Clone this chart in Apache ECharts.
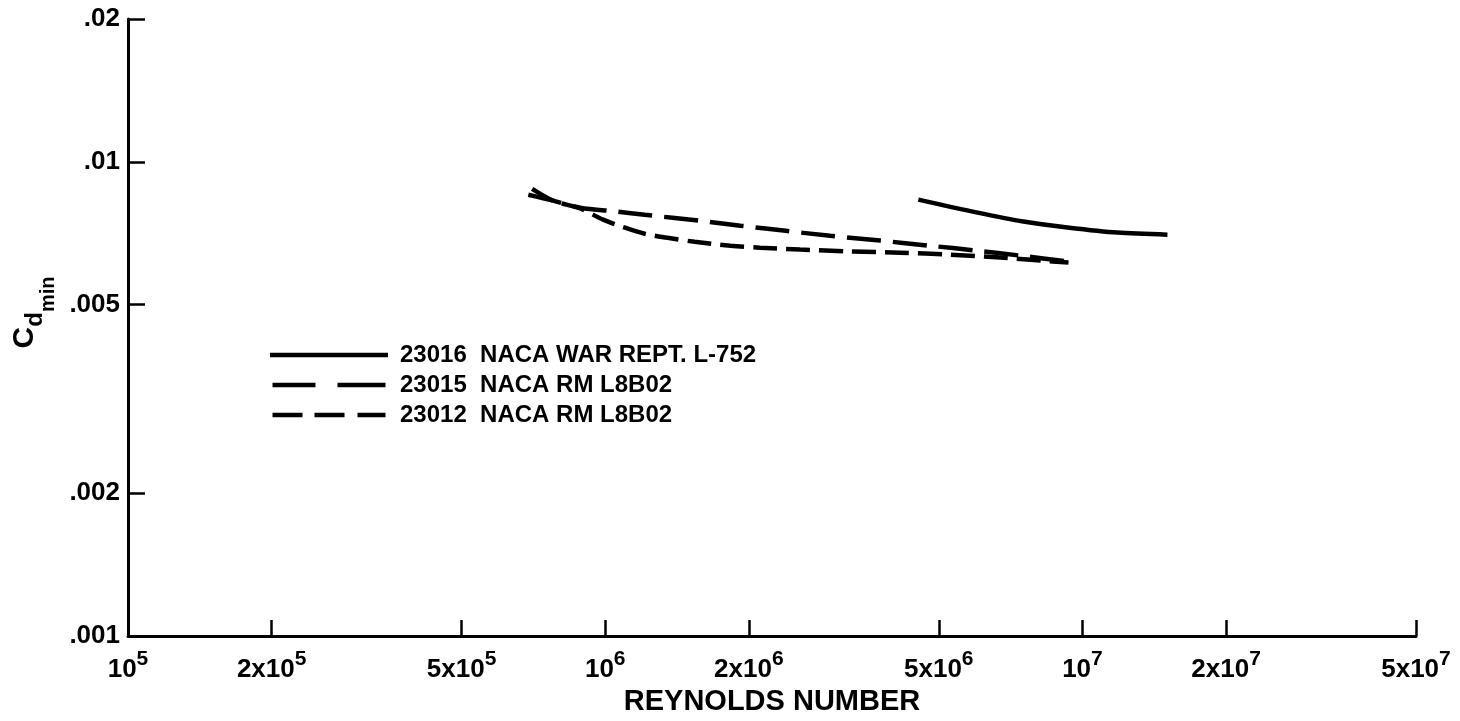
<!DOCTYPE html>
<html>
<head>
<meta charset="utf-8">
<script src="https://cdn.jsdelivr.net/npm/echarts@6/dist/echarts.min.js"></script>
<style>
  html, body { margin: 0; padding: 0; background: #fff; }
  #chart { width: 1460px; height: 721px; }
</style>
</head>
<body>
<div id="chart"></div>
<script>
// Minimum section drag coefficient versus Reynolds number, NACA 230xx sections
const seriesNames = ['23016  NACA WAR REPT. L-752', '23015  NACA RM L8B02', '23012  NACA RM L8B02'];

const re23016 = [4.53e6, 6.03e6, 7.52e6, 9.30e6, 1.183e7, 1.507e7];
const cd23016 = [0.00832, 0.00781, 0.00748, 0.00727, 0.00709, 0.00702];

const re23015 = [6.90e5, 7.78e5, 8.86e5, 1.06e6, 1.21e6, 1.58e6, 1.92e6, 2.39e6, 2.96e6, 3.77e6, 4.80e6, 5.97e6, 7.41e6, 9.35e6];
const cd23015 = [0.00852, 0.00828, 0.00800, 0.00785, 0.00773, 0.00751, 0.00733, 0.00715, 0.00698, 0.00682, 0.00665, 0.00650, 0.00634, 0.00616];

const re23012 = [7.03e5, 7.78e5, 8.86e5, 9.90e5, 1.10e6, 1.21e6, 1.34e6, 1.54e6, 1.83e6, 2.11e6, 2.56e6, 3.26e6, 4.15e6, 5.29e6, 6.73e6, 8.17e6, 9.35e6];
const cd23012 = [0.00877, 0.00828, 0.00797, 0.00755, 0.00726, 0.00705, 0.00692, 0.00678, 0.00665, 0.00659, 0.00653, 0.00647, 0.00643, 0.00637, 0.00628, 0.00619, 0.00613];

const xTickValues = [1e5, 2e5, 5e5, 1e6, 2e6, 5e6, 1e7, 2e7, 5e7];
const xTickMantissa = ['', '2x', '5x', '', '2x', '5x', '', '2x', '5x'];
const xTickExponent = ['5', '5', '5', '6', '6', '6', '7', '7', '7'];
const yTickValues = [0.001, 0.002, 0.005, 0.01, 0.02];
const yTickLabels = ['.001', '.002', '.005', '.01', '.02'];

const FONT = '"Liberation Sans", Arial, Helvetica, sans-serif';
const INK = '#000';

function zip(xs, ys) { return xs.map((x, i) => [x, ys[i]]); }
function nearestIndex(list, v) {
  let best = 0;
  list.forEach((t, i) => {
    if (Math.abs(Math.log10(t) - Math.log10(v)) < Math.abs(Math.log10(list[best]) - Math.log10(v))) best = i;
  });
  return best;
}

const chart = echarts.init(document.getElementById('chart'), null, { renderer: 'canvas' });

function lineSeries(name, xs, ys, dash) {
  return {
    name: name,
    type: 'line',
    data: zip(xs, ys),
    symbol: 'none',
    smooth: 0.3,
    silent: true,
    lineStyle: { color: INK, width: 4.5, type: dash, cap: 'butt' },
    itemStyle: { color: INK }
  };
}

// bold text helper for rich fragments
function rt(size, lineHeight, align, padding) {
  const s = { fontSize: size, fontWeight: 'bold', fontFamily: FONT, color: INK, lineHeight: lineHeight, verticalAlign: align };
  if (padding) s.padding = padding;
  return s;
}

chart.setOption({
  animation: false,
  backgroundColor: '#fff',
  grid: { left: 128, right: 44, top: 19, bottom: 85, containLabel: false, outerBoundsMode: 'none' },
  legend: {
    orient: 'vertical',
    left: 270,
    top: 343,
    padding: 0,
    itemWidth: 118,
    itemHeight: 4.5,
    itemGap: 6,
    selectedMode: false,
    textStyle: { color: INK, fontSize: 24, fontWeight: 'bold', fontFamily: FONT, lineHeight: 24, padding: [0, 0, 0, 7] },
    data: [
      { name: seriesNames[0], icon: 'path://M0,0H118V4.5H0Z' },
      { name: seriesNames[1], icon: 'path://M5,0H48V4.5H5Z M70,0H118V4.5H70Z' },
      { name: seriesNames[2], icon: 'path://M5,0H35V4.5H5Z M47,0H77V4.5H47Z M90,0H118V4.5H90Z' }
    ]
  },
  xAxis: {
    type: 'log',
    logBase: 10,
    min: 1e5,
    max: 5e7,
    name: 'REYNOLDS NUMBER',
    nameLocation: 'middle',
    nameGap: 46,
    nameTextStyle: { color: INK, fontSize: 29, fontWeight: 'bold', fontFamily: FONT },
    axisLine: { show: true, lineStyle: { color: INK, width: 3 } },
    axisTick: { show: true, inside: true, length: 16, lineStyle: { color: INK, width: 2.5 }, customValues: xTickValues },
    splitLine: { show: false },
    minorTick: { show: false },
    axisLabel: {
      customValues: xTickValues,
      margin: 13,
      color: INK,
      fontFamily: FONT,
      fontWeight: 'bold',
      formatter: function (v) {
        const i = nearestIndex(xTickValues, v);
        return '{b|' + xTickMantissa[i] + '10}{s|' + xTickExponent[i] + '}';
      },
      rich: {
        b: rt(26, 34, 'bottom'),
        s: rt(21, 24, 'top')
      }
    }
  },
  yAxis: {
    type: 'log',
    logBase: 10,
    min: 0.001,
    max: 0.02,
    name: '{c|C}{d|d}{m|min}',
    nameLocation: 'middle',
    nameRotate: 90,
    nameGap: 67,
    nameTextStyle: {
      color: INK,
      fontFamily: FONT,
      padding: [0, 0, 0, 30],
      rich: {
        c: rt(30, 49, 'top'),
        d: rt(24, 49, 'bottom', [0, 0, 11, 0]),
        m: rt(20, 49, 'bottom')
      }
    },
    axisLine: { show: true, lineStyle: { color: INK, width: 3 } },
    axisTick: { show: true, inside: true, length: 17, lineStyle: { color: INK, width: 2.5 }, customValues: yTickValues },
    splitLine: { show: false },
    minorTick: { show: false },
    axisLabel: {
      customValues: yTickValues,
      margin: 8,
      color: INK,
      fontSize: 26,
      fontWeight: 'bold',
      fontFamily: FONT,
      formatter: function (v) { return yTickLabels[nearestIndex(yTickValues, v)]; }
    }
  },
  series: [
    lineSeries(seriesNames[0], re23016, cd23016, 'solid'),
    lineSeries(seriesNames[1], re23015, cd23015, [34, 12]),
    lineSeries(seriesNames[2], re23012, cd23012, [24, 9])
  ]
});
</script>
</body>
</html>
